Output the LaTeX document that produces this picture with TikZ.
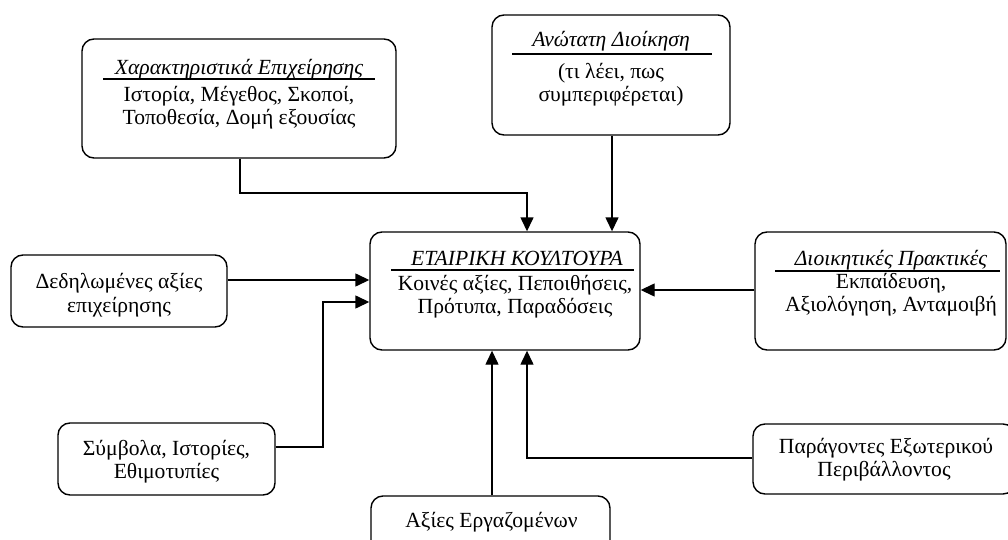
\documentclass[tikz,border=0pt]{standalone}
\usepackage{fontspec}
\setmainfont{Liberation Serif}
\usetikzlibrary{arrows.meta}
\begin{document}
\begin{tikzpicture}[x=1pt,y=-1pt,
  box/.style={draw,line width=1.4pt,rounded corners=12pt,inner sep=0pt},
  txt/.style={font=\fontsize{21.6}{23}\selectfont,inner sep=0pt,anchor=base},
  ttl/.style={font=\fontsize{21.6}{23}\selectfont\itshape,inner sep=0pt,anchor=base},
  uline/.style={line width=1.4pt},
  con/.style={line width=1.4pt},
  arr/.style={con,-{Triangle[length=14pt,width=13pt]}}]
\useasboundingbox (0,0) rectangle (1008,540);
\clip (0,0) rectangle (1008,540);
\fill[white] (0,0) rectangle (1008,540);

% boxes
\node[box,minimum width=314pt,minimum height=119pt] (charact) at (239,98.5) {};
\node[box,minimum width=238pt,minimum height=120pt] (topm) at (611,75) {};
\node[box,minimum width=270pt,minimum height=118pt] (cult) at (505,291) {};
\node[box,minimum width=216pt,minimum height=72pt] (dedil) at (119,291) {};
\node[box,minimum width=251pt,minimum height=118pt] (prakt) at (880.5,291) {};
\node[box,minimum width=217pt,minimum height=72pt] (symv) at (166.5,459) {};
\node[box,minimum width=239pt,minimum height=64pt] (axies) at (490.5,528) {};
\node[box,minimum width=262pt,minimum height=70pt] (parag) at (884,459) {};

% texts
\node[ttl] (t1) at (239,75) {Χαρακτηριστικά Επιχείρησης};
\draw[uline] (103,79) coordinate (u1a) -- (375,79) coordinate (u1b);
\node[txt] (b1a) at (239,102) {Ιστορία, Μέγεθος, Σκοποί,};
\node[txt] (b1b) at (239,125) {Τοποθεσία, Δομή εξουσίας};

\node[ttl] (t2) at (611,47) {Ανώτατη Διοίκηση};
\draw[uline] (512,54) coordinate (u2a) -- (712,54) coordinate (u2b);
\node[txt] (b2a) at (611,79) {(τι λέει, πως};
\node[txt] (b2b) at (611,102) {συμπεριφέρεται)};

\node[ttl] (t3) at (517,265) {ΕΤΑΙΡΙΚΗ ΚΟΥΛΤΟΥΡΑ};
\draw[uline] (391,270) coordinate (u3a) -- (634,270) coordinate (u3b);
\node[txt] (b3a) at (515,290) {Κοινές αξίες, Πεποιθήσεις,};
\node[txt] (b3b) at (515,313) {Πρότυπα, Παραδόσεις};

\node[txt] (b4a) at (119,288) {Δεδηλωμένες αξίες};
\node[txt] (b4b) at (119,312) {επιχείρησης};

\node[ttl] (t5) at (891,265) {Διοικητικές Πρακτικές};
\draw[uline] (775,271) coordinate (u5a) -- (1000,271) coordinate (u5b);
\node[txt] (b5a) at (891,288) {Εκπαίδευση,};
\node[txt] (b5b) at (891,311) {Αξιολόγηση, Ανταμοιβή};

\node[txt] (b6a) at (166.5,455) {Σύμβολα, Ιστορίες,};
\node[txt] (b6b) at (166.5,478) {Εθιμοτυπίες};

\node[txt] (b7) at (491.5,527) {Αξίες Εργαζομένων};

\node[txt] (b8a) at (886,453) {Παράγοντες Εξωτερικού};
\node[txt] (b8b) at (884,476) {Περιβάλλοντος};

% connectors
\draw[arr] (charact.south -| 240,0) |- (240,193) -| (cult.north -| 527,0);
\draw[arr] (topm.south -| 612,0) -- (cult.north -| 612,0);
\draw[arr] (dedil.east |- 0,280) -- (cult.west |- 0,280);
\draw[arr] (symv.east |- 0,447) -| (323,302) -- (cult.west |- 0,302);
\draw[arr] (prakt.west |- 0,290) -- (cult.east |- 0,290);
\draw[arr] (axies.north -| 492,0) -- (cult.south -| 492,0);
\draw[arr] (parag.west |- 0,458) -| (cult.south -| 527,0);
\end{tikzpicture}
\end{document}
